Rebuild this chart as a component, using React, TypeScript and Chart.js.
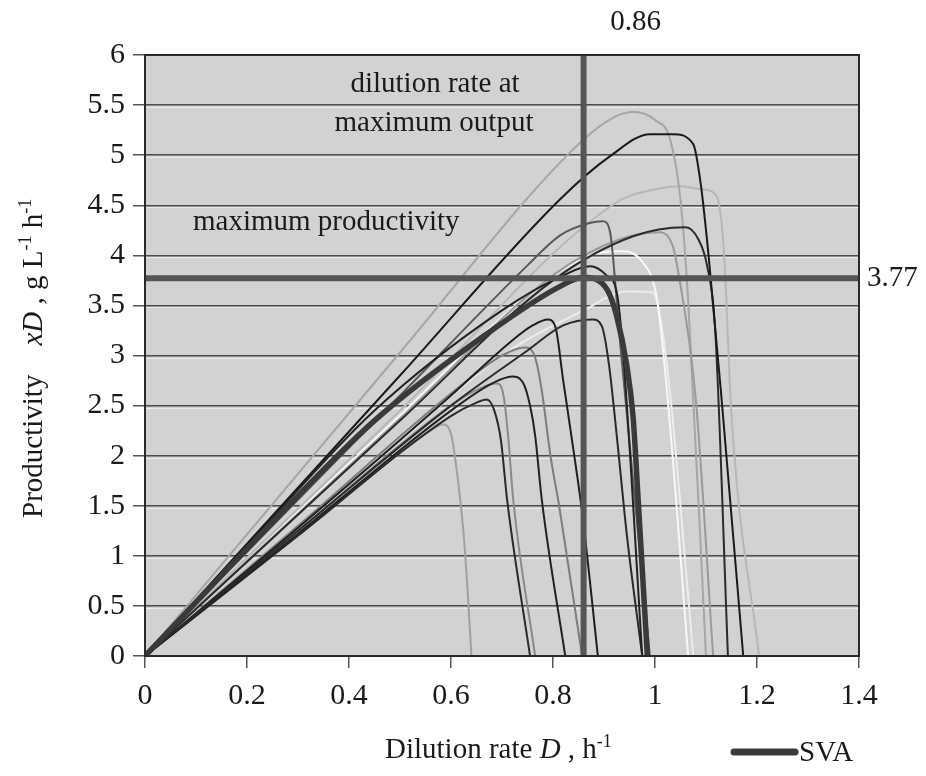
import { useEffect, useRef } from "react";
import { Chart, registerables } from "chart.js";
Chart.register(...registerables);

// Axis ticks
const X_TICKS = [0, 0.2, 0.4, 0.6, 0.8, 1, 1.2, 1.4];
const Y_TICKS = [0, 0.5, 1, 1.5, 2, 2.5, 3, 3.5, 4, 4.5, 5, 5.5, 6];

// Reference values
const D_OPT = 0.86;
const P_MAX = 3.77;

// Curves: dilution rate D (h^-1) and productivity xD (g L^-1 h^-1)
const A_D = [0, 0.3, 0.5, 0.56, 0.584, 0.6, 0.61, 0.624, 0.632, 0.64];
const A_P = [0, 1.23, 2.03, 2.25, 2.31, 2.22, 1.9, 1.26, 0.7, 0];
const B_D = [0, 0.3, 0.598, 0.65, 0.67, 0.685, 0.698, 0.71, 0.755];
const B_P = [0, 1.2, 2.39, 2.53, 2.56, 2.45, 2.15, 1.56, 0];
const B2_D = [0, 0.3, 0.6, 0.66, 0.69, 0.703, 0.712, 0.722, 0.765];
const B2_P = [0, 1.25, 2.5, 2.68, 2.72, 2.6, 2.2, 1.56, 0];
const C_D = [0, 0.3, 0.6, 0.68, 0.72, 0.741, 0.755, 0.765, 0.778, 0.824];
const C_P = [0, 1.22, 2.45, 2.72, 2.79, 2.73, 2.5, 2.2, 1.56, 0];
const DD_D = [0, 0.3, 0.6, 0.7, 0.745, 0.765, 0.778, 0.795, 0.812, 0.857];
const DD_P = [0, 1.3, 2.62, 3.0, 3.08, 2.98, 2.65, 2.0, 1.5, 0];
const E_D = [0, 0.3, 0.6, 0.72, 0.76, 0.79, 0.805, 0.82, 0.84, 0.858, 0.888];
const E_P = [0, 1.28, 2.6, 3.15, 3.3, 3.36, 3.28, 2.75, 2.06, 1.4, 0];
const F_D = [0, 0.3, 0.6, 0.75, 0.82, 0.878, 0.896, 0.91, 0.925, 0.945, 0.975];
const F_P = [0, 1.25, 2.5, 3.05, 3.3, 3.36, 3.29, 2.9, 2.2, 1.2, 0];
const SVA_D = [0, 0.2, 0.45, 0.663, 0.814, 0.86, 0.906, 0.925, 0.945, 0.957, 0.967, 0.985];
const SVA_P = [0, 1.07, 2.35, 3.19, 3.69, 3.78, 3.66, 3.39, 2.89, 2.39, 1.56, 0];
const H_D = [0, 0.2, 0.45, 0.7, 0.82, 0.873, 0.905, 0.925, 0.937, 0.975];
const H_P = [0, 1.1, 2.45, 3.45, 3.8, 3.89, 3.8, 3.63, 3.06, 0];
const I_D = [0, 0.5, 0.75, 0.814, 0.87, 0.898, 0.912, 0.922, 0.931, 0.99];
const I_P = [0, 2.6, 3.9, 4.2, 4.32, 4.34, 4.23, 3.73, 3.16, 0];
const J_D = [0, 0.5, 0.75, 0.867, 0.931, 0.976, 1.004, 1.025, 1.065];
const J_P = [0, 2.4, 3.6, 3.99, 4.04, 3.93, 3.56, 2.56, 0];
const K_D = [0, 0.5, 0.7, 0.86, 0.945, 0.996, 1.01, 1.03, 1.075];
const K_P = [0, 2.15, 3.0, 3.45, 3.64, 3.63, 3.39, 2.6, 0];
const L_D = [0, 0.5, 0.8, 0.931, 1.01, 1.035, 1.045, 1.08, 1.114];
const L_P = [0, 2.37, 3.8, 4.16, 4.23, 4.09, 3.85, 2.56, 0];
const M_D = [0, 0.5, 0.84, 0.92, 0.96, 1.0, 1.03, 1.05, 1.065, 1.1];
const M_P = [0, 3.03, 5.06, 5.38, 5.43, 5.35, 5.15, 4.55, 3.55, 0];
const N_D = [0, 0.5, 0.814, 0.912, 0.99, 1.035, 1.075, 1.09, 1.105, 1.13, 1.173];
const N_P = [0, 2.8, 4.56, 4.99, 5.21, 5.21, 5.11, 4.7, 4.0, 2.6, 0];
const O_D = [0, 0.5, 0.925, 1.0, 1.05, 1.09, 1.12, 1.135, 1.15, 1.204];
const O_P = [0, 2.45, 4.53, 4.66, 4.69, 4.66, 4.6, 4.05, 2.4, 0];
const P_D = [0, 0.5, 0.8, 0.957, 1.06, 1.085, 1.102, 1.118, 1.143];
const P_P = [0, 2.35, 3.75, 4.19, 4.28, 4.16, 3.9, 3.26, 0];

const CURVES = [
  { d: SVA_D, p: SVA_P, color: "#3a3a3a", w: 5.5, label: "SVA" },
  { d: H_D, p: H_P, color: "#222222", w: 2 },
  { d: F_D, p: F_P, color: "#2a2a2a", w: 2 },
  { d: E_D, p: E_P, color: "#1e1e1e", w: 2 },
  { d: C_D, p: C_P, color: "#222222", w: 2 },
  { d: B_D, p: B_P, color: "#2a2a2a", w: 2 },
  { d: N_D, p: N_P, color: "#1a1a1a", w: 2 },
  { d: P_D, p: P_P, color: "#2b2b2b", w: 2 },
  { d: I_D, p: I_P, color: "#5a5a5a", w: 2 },
  { d: DD_D, p: DD_P, color: "#7d7d7d", w: 2 },
  { d: B2_D, p: B2_P, color: "#8a8a8a", w: 2 },
  { d: L_D, p: L_P, color: "#9a9a9a", w: 2 },
  { d: A_D, p: A_P, color: "#a0a0a0", w: 2 },
  { d: M_D, p: M_P, color: "#a6a6a6", w: 2 },
  { d: O_D, p: O_P, color: "#b8b8b8", w: 2 },
  { d: J_D, p: J_P, color: "#f8f8f8", w: 2 },
  { d: K_D, p: K_P, color: "#ececec", w: 2 },
];

const SERIF = "'Liberation Serif', 'Times New Roman', serif";

export default function App() {
  const ref = useRef<HTMLCanvasElement>(null);
  useEffect(() => {
    document.body.style.margin = "0";
    const canvas = ref.current!;
    const curveSets = CURVES.map((c) => ({
      label: c.label || "",
      data: c.d.map((x, i) => ({ x, y: c.p[i] })),
      borderColor: c.color,
      borderWidth: c.w,
      pointRadius: 0,
      cubicInterpolationMode: "monotone" as const,
      fill: false,
    }));
    const refSets = [
      {
        label: "",
        data: [{ x: D_OPT, y: 0 }, { x: D_OPT, y: 6 }],
        borderColor: "#555555",
        borderWidth: 6,
        pointRadius: 0,
        fill: false,
      },
      {
        label: "",
        data: [{ x: 0, y: P_MAX }, { x: 1.4, y: P_MAX }],
        borderColor: "#555555",
        borderWidth: 6,
        pointRadius: 0,
        fill: false,
      },
    ];

    const deco = {
      id: "deco",
      beforeDraw(chart: any) {
        const { ctx, chartArea: a } = chart;
        ctx.save();
        ctx.fillStyle = "#d2d2d2";
        ctx.fillRect(a.left, a.top, a.right - a.left, a.bottom - a.top);
        ctx.restore();
      },
      beforeDatasetsDraw(chart: any) {
        // light highlight under each grid line (scanned look)
        const { ctx, chartArea: a, scales } = chart;
        ctx.save();
        ctx.strokeStyle = "rgba(255,255,255,0.55)";
        ctx.lineWidth = 1;
        for (const v of Y_TICKS) {
          if (v === 0 || v === 6) continue;
          const y = Math.round(scales.y.getPixelForValue(v)) + 2.5;
          ctx.beginPath();
          ctx.moveTo(a.left, y);
          ctx.lineTo(a.right, y);
          ctx.stroke();
        }
        ctx.restore();
      },
      afterDraw(chart: any) {
        const { ctx, chartArea: a, scales } = chart;
        const xs = scales.x;
        const ys = scales.y;
        ctx.save();
        ctx.strokeStyle = "#2a2a2a";
        ctx.lineWidth = 2;
        ctx.strokeRect(a.left, a.top, a.right - a.left, a.bottom - a.top);

        ctx.fillStyle = "#1a1a1a";
        ctx.textBaseline = "middle";
        ctx.font = `29px ${SERIF}`;
        ctx.textAlign = "center";
        ctx.fillText(String(D_OPT), xs.getPixelForValue(D_OPT) + 52, 22);
        ctx.textAlign = "left";
        ctx.fillText(String(P_MAX), a.right + 8, ys.getPixelForValue(P_MAX));
        ctx.textAlign = "center";
        ctx.fillText("dilution rate at", 435, 84);
        ctx.fillText("maximum output", 434, 123);
        ctx.textAlign = "left";
        ctx.fillText("maximum productivity", 193, 222);

        const run = (segs: { t: string; it?: boolean; sup?: boolean }[], size: number) => {
          let x = 0;
          for (const s of segs) {
            const fs = s.sup ? Math.round(size * 0.62) : size;
            ctx.font = `${s.it ? "italic " : ""}${fs}px ${SERIF}`;
            ctx.fillText(s.t, x, s.sup ? -size * 0.38 : 0);
            x += ctx.measureText(s.t).width;
          }
        };
        ctx.textBaseline = "alphabetic";
        ctx.textAlign = "left";
        // y title
        ctx.save();
        ctx.translate(42, 518);
        ctx.rotate(-Math.PI / 2);
        run(
          [
            { t: "Productivity    " },
            { t: "xD", it: true },
            { t: " , g L" },
            { t: "-1", sup: true },
            { t: " h" },
            { t: "-1", sup: true },
          ],
          29
        );
        ctx.restore();
        // x title
        ctx.save();
        ctx.translate(385, 758);
        run(
          [
            { t: "Dilution rate " },
            { t: "D", it: true },
            { t: " , h" },
            { t: "-1", sup: true },
          ],
          29
        );
        ctx.restore();
        // legend
        ctx.strokeStyle = "#3a3a3a";
        ctx.lineWidth = 7;
        ctx.lineCap = "round";
        ctx.beginPath();
        ctx.moveTo(734, 752);
        ctx.lineTo(795, 752);
        ctx.stroke();
        ctx.font = `29px ${SERIF}`;
        ctx.textBaseline = "middle";
        ctx.fillText("SVA", 799, 753);
        ctx.restore();
      },
    };

    const chart = new Chart(canvas, {
      type: "line",
      data: { datasets: [...refSets, ...curveSets] as any },
      options: {
        animation: false,
        responsive: false,
        layout: { padding: { top: 55, right: 67, left: 0, bottom: 0 } },
        plugins: { legend: { display: false }, tooltip: { enabled: false } },
        scales: {
          x: {
            type: "linear",
            min: 0,
            max: 1.4,
            afterBuildTicks: (s: any) => {
              s.ticks = X_TICKS.map((v) => ({ value: v }));
            },
            afterFit: (s: any) => {
              s.height = 120;
            },
            ticks: {
              color: "#1a1a1a",
              font: { family: SERIF, size: 30 },
              padding: 10,
              callback: (v: any) => String(Math.round(Number(v) * 10) / 10),
              maxRotation: 0,
            },
            grid: { drawOnChartArea: false, drawTicks: true, tickLength: 12, tickColor: "#555555", lineWidth: 1.5 },
            border: { display: true, color: "#2a2a2a", width: 2 },
          },
          y: {
            type: "linear",
            min: 0,
            max: 6,
            afterBuildTicks: (s: any) => {
              s.ticks = Y_TICKS.map((v) => ({ value: v }));
            },
            afterFit: (s: any) => {
              s.width = 145;
            },
            ticks: {
              color: "#1a1a1a",
              font: { family: SERIF, size: 30 },
              padding: 8,
              callback: (v: any) => String(Math.round(Number(v) * 10) / 10),
            },
            grid: { color: "#4a4a4a", lineWidth: 1.5, drawTicks: true, tickLength: 12, tickColor: "#555555" },
            border: { display: true, color: "#2a2a2a", width: 2 },
          },
        },
      },
      plugins: [deco],
    });
    return () => chart.destroy();
  }, []);
  return (
    <div style={{ width: 926, height: 776 }}>
      <canvas ref={ref} width={926} height={776} style={{ display: "block" }} />
    </div>
  );
}
